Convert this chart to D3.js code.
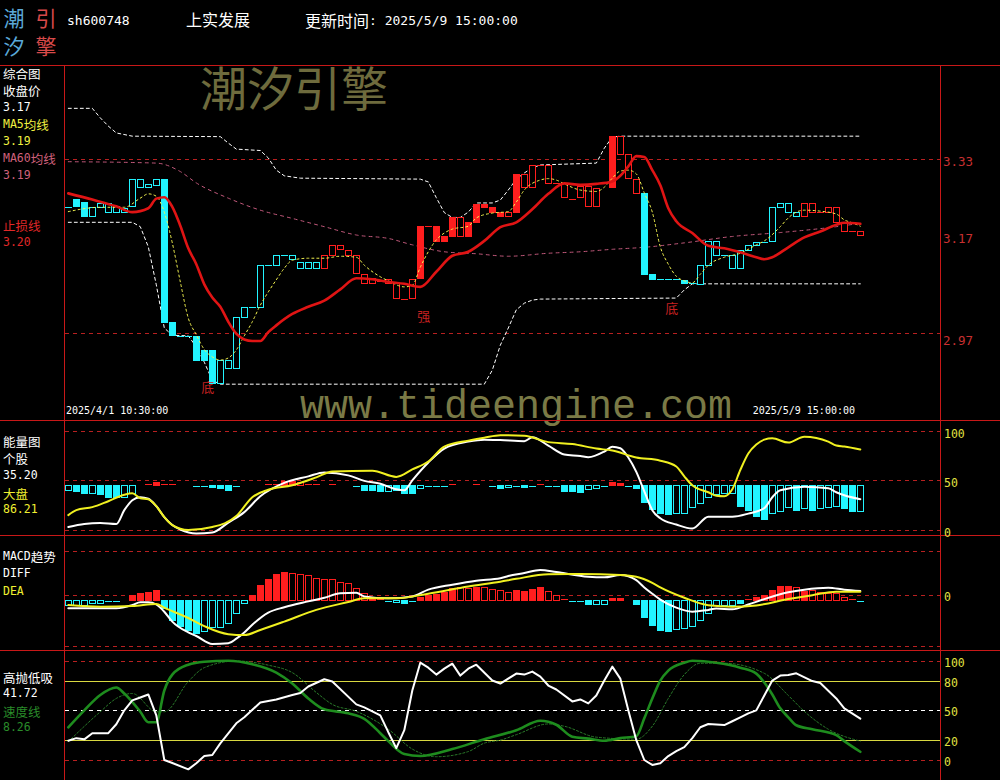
<!DOCTYPE html>
<html><head><meta charset="utf-8">
<script src="https://cdn.jsdelivr.net/npm/d3@7/dist/d3.min.js"></script>
<style>html,body{margin:0;padding:0;background:#000;overflow:hidden}svg{display:block}</style>
</head><body>
<svg id="chart" width="1000" height="780"></svg>
<script>
// ================= DATA =================
const stockCode = 'sh600748';
const stockName = '上实发展';
const updateText = '更新时间: 2025/5/9 15:00:00';
const firstBarTime = '2025/4/1 10:30:00';
const lastBarTime = '2025/5/9 15:00:00';

// candle bodies (upper / lower edge of body), 100 hourly bars
const candleHi = [3.234,3.251,3.245,3.234,3.242,3.242,3.236,3.232,3.293,3.293,
3.282,3.293,3.293,3.005,2.978,2.978,2.977,2.951,2.951,2.932,
2.932,3.015,3.033,3.034,3.116,3.116,3.137,3.137,3.137,3.123,
3.123,3.123,3.137,3.157,3.157,3.147,3.137,3.098,3.090,3.085,
3.088,3.080,3.050,3.088,3.195,3.195,3.195,3.175,3.213,3.213,
3.204,3.241,3.241,3.234,3.224,3.224,3.304,3.304,3.323,3.322,
3.323,3.284,3.284,3.252,3.278,3.278,3.274,3.284,3.385,3.385,
3.346,3.293,3.264,3.098,3.088,3.088,3.088,3.087,3.080,3.116,
3.165,3.165,3.137,3.137,3.147,3.157,3.163,3.163,3.234,3.242,
3.242,3.224,3.242,3.242,3.225,3.234,3.234,3.204,3.186,3.185];
const candleLo = [3.234,3.237,3.215,3.215,3.234,3.225,3.225,3.225,3.237,3.277,
3.277,3.281,3.005,2.980,2.978,2.978,2.933,2.933,2.889,2.889,
2.917,2.917,3.015,3.034,3.034,3.116,3.116,3.137,3.128,3.110,
3.110,3.110,3.110,3.137,3.148,3.137,3.100,3.080,3.080,3.085,
3.080,3.052,3.050,3.052,3.090,3.195,3.165,3.165,3.175,3.175,
3.175,3.204,3.234,3.224,3.215,3.215,3.225,3.276,3.276,3.322,
3.284,3.284,3.255,3.252,3.255,3.237,3.237,3.284,3.276,3.346,
3.295,3.264,3.098,3.088,3.088,3.088,3.088,3.080,3.080,3.079,
3.116,3.137,3.137,3.110,3.110,3.147,3.157,3.163,3.165,3.235,
3.225,3.215,3.215,3.225,3.225,3.225,3.204,3.186,3.186,3.176];
// c = cyan state, r = red state ; f = filled, h = hollow
const candleState = ('cccccccccc'+'cccccccccc'+'cccccccccc'+'ccrrrrrrrr'+'rrrrrrrrrr'+
                     'rrrrrrrrrr'+'rrrrrrrrrr'+'rrcccccccc'+'cccccccccc'+'ccrrrrrrrr').split('');
const candleFill  = ('hffhhhhhhh'+'hhffhhfffh'+'hhhhhhhhhh'+'hhhhhhhhhh'+'hhhhfhfffh'+
                     'fffffhfhhh'+'hhhhhhhhfh'+'hhffhhhfhh'+'hhhhhhhhhh'+'hhhhhhhhhh').split('');

// main panel lines [barIndex, price]
const stopLine = [[0,3.263],[3,3.250],[6,3.236],[8,3.224],[10,3.232],[11,3.252],[12,3.255],[13,3.235],[14,3.196],[15,3.150],[16,3.118],[17,3.078],[18,3.052],[19,3.034],[20,3.005],[21,2.982],[22,2.971],[23,2.968],[24,2.968],[25,2.985],[26,2.998],[28,3.020],[30,3.034],[32,3.046],[34,3.068],[36,3.090],[38,3.088],[40,3.083],[42,3.079],[44,3.073],[46,3.103],[48,3.135],[50,3.143],[52,3.165],[54,3.193],[56,3.203],[58,3.230],[60,3.262],[62,3.284],[64,3.281],[66,3.283],[68,3.288],[69,3.300],[70,3.320],[71,3.342],[72,3.340],[73,3.312],[74,3.280],[75,3.232],[76,3.205],[78,3.181],[80,3.155],[82,3.150],[84,3.142],[86,3.132],[87,3.128],[88,3.132],[90,3.152],[92,3.172],[94,3.184],[96,3.198],[97,3.202],[99,3.200]];
const ma5 = [[0,3.225],[4,3.234],[7,3.234],[9,3.253],[10,3.262],[11,3.257],[12,3.224],[13,3.161],[14,3.083],[15,3.012],[16,2.980],[17,2.952],[18,2.938],[19,2.932],[20,2.936],[21,2.951],[22,2.978],[23,3.005],[24,3.037],[25,3.063],[26,3.087],[27,3.110],[28,3.126],[30,3.130],[32,3.130],[34,3.134],[36,3.132],[37,3.116],[39,3.093],[40,3.085],[42,3.073],[43,3.076],[44,3.112],[45,3.143],[46,3.167],[47,3.181],[48,3.189],[50,3.195],[51,3.212],[53,3.222],[55,3.225],[56,3.245],[57,3.270],[59,3.291],[60,3.294],[61,3.291],[62,3.283],[64,3.270],[66,3.267],[67,3.276],[68,3.295],[69,3.310],[70,3.312],[71,3.304],[72,3.264],[73,3.224],[74,3.153],[75,3.118],[76,3.094],[77,3.085],[78,3.081],[79,3.098],[80,3.116],[82,3.132],[84,3.140],[86,3.157],[87,3.165],[89,3.194],[90,3.212],[91,3.224],[92,3.228],[94,3.226],[96,3.220],[97,3.208],[98,3.202],[99,3.195]];
const ma60 = [[0,3.330],[11,3.327],[14,3.309],[16,3.285],[20,3.253],[24,3.228],[28,3.211],[32,3.194],[36,3.177],[40,3.170],[43,3.157],[47,3.143],[51,3.139],[55,3.134],[60,3.140],[64,3.143],[68,3.148],[72,3.152],[77,3.161],[83,3.174],[89,3.182],[96,3.194],[99,3.201]];
const upperBand = [[0,3.446],[3,3.446],[4,3.425],[5,3.407],[6,3.392],[8,3.385],[19,3.384],[20,3.370],[21,3.357],[24,3.354],[25,3.338],[26,3.312],[27,3.300],[29,3.295],[44,3.293],[45,3.287],[46,3.254],[47,3.223],[48,3.213],[49,3.213],[50,3.224],[51,3.243],[53,3.243],[54,3.249],[55,3.270],[56,3.293],[57,3.306],[58,3.317],[59,3.323],[66,3.327],[67,3.359],[68,3.383],[69,3.385],[99,3.385]];
const lowerBand = [[0,3.203],[8,3.203],[9,3.194],[10,3.153],[11,3.077],[12,2.993],[13,2.979],[15,2.978],[16,2.957],[17,2.928],[18,2.894],[19,2.887],[52,2.887],[53,2.913],[54,2.960],[55,2.993],[56,3.028],[57,3.041],[58,3.047],[59,3.049],[76,3.051],[77,3.067],[78,3.079],[99,3.079]];
const priceTicks = [3.33, 3.17, 2.97];
const priceLevels = [3.335, 2.984];
const signalIdx = [17, 44, 75];
const signalPrice = [2.882, 3.018, 3.033];
const signalText = ['底', '强', '底'];

// energy panel
const energyStock = [[0,3],[2,6],[4,7],[6,6],[7,20],[8,30],[9,33],[10,31.5],[11,24],[12,13],[13,5],[14,0.5],[16,-3.5],[18,-2.5],[20,7.5],[22,18],[24,34],[27,47.5],[30,54],[32,58],[35,55],[37,49.5],[39,46.5],[41,41],[42,40],[43,50],[45,68],[47,82],[50,89],[52,91],[54,90.6],[57,89.5],[58,93.4],[60,85],[62,76],[64,74.5],[65,73.2],[67,79],[68,83.9],[69,82.3],[70,73],[71,58.5],[72,39],[73,20],[74,11.8],[76,5.5],[78,1.5],[80,13.4],[83,13.4],[85,16.5],[87,22],[88,33],[89,40],[92,43.6],[95,42],[96,38],[97,35],[99,31]];
const energyMarket = [[0,15],[1,20],[3,23],[5,29],[7,35.5],[8,37],[9,32],[10,31],[11,24],[12,13],[13,5],[15,0],[18,3],[21,14],[23,33],[25,40.5],[28,45],[31,53],[33,59],[38,59.7],[41,53.5],[43,61],[45,69],[47,84],[50,90],[52,93],[54,95.5],[57,94.8],[60,88.5],[63,86.6],[66,82],[68,80],[71,73],[74,69.8],[76,64],[77,54],[78,45],[80,38],[81,34.5],[82,34],[83,41],[84,60.4],[85,77],[86,86],[87,91],[88,92.3],[90,88],[92,94],[95,89],[96,85],[97,84],[99,81]];
const energyBars = [-5,-5.7,-8.3,-7.7,-9,-11.7,-11.7,-11.7,-7.7,null,
 0.5,2.7,0.5,0.5,null,null,-0.5,-0.5,-2.3,-3.3,
 -5,-0.5,null,null,null,0.5,0.5,4.3,4.3,3,
 0.5,0.5,null,0.5,null,null,-0.5,-5,-5,-5.7,
 -5.7,-5,-7.7,-7.7,-3.3,-0.5,-0.5,-0.5,0.5,null,
 null,0.5,null,-0.5,-3.3,-2.3,-0.5,-2.3,-0.5,0.5,
 -0.5,-0.5,-5.7,-6,-6.7,-4.3,-3.3,-0.5,3.3,2,
 -0.5,-3.3,-16.7,-24.3,-27.7,-29,-27.7,-27.7,-22.3,-18.3,
 -11.7,-9,-8.3,-7.7,-21,-25,-31.7,-34.3,-28.3,-25.7,
 -21.7,-25,-23.3,-25,-23.3,-22.3,-21,-23.3,-25.7,-25.7];
const energyFill = ('hffhfffhhh'+'hfhhhhhhff'+'fhhhhhhffh'+'hhhhhhhfff'+'hfffhhhhhh'+
                    'hhhhfhhfhh'+'hhfffhhhff'+'hfffffhhhh'+'hhhhffffhh'+'hfhfhhhffh').split('');
const energyTicks = [100, 50, 0];

// MACD panel (units of 0.001)
const diffLine = [[0,-9.2],[6,-9.2],[8,-5.6],[9,-2.5],[10,-2.5],[11,-5],[12,-13],[13,-24],[15,-36],[16,-40],[18,-48.9],[20,-48],[21,-43],[22,-36],[23,-27.5],[25,-14],[27,-8],[30,-1.5],[32,2.5],[34,7.5],[36,8],[37,4],[40,1.9],[43,4],[45,11.5],[48,17],[51,21.5],[54,24.1],[55,26.7],[57,30],[59,33.3],[61,31],[65,25.8],[67,25.2],[69,27.8],[71,22],[72,14],[73,7],[74,0.5],[76,-8.5],[78,-13],[80,-11],[81,-9.5],[83,-10.3],[85,-5],[87,1],[90,8.5],[92,11.5],[95,13.7],[97,11.5],[99,10]];
const deaLine = [[0,-5.6],[4,-7.4],[8,-6.7],[11,-4.4],[12,-8.5],[15,-20],[17,-29],[20,-38],[22,-39],[24,-33.3],[27,-24],[31,-11],[35,-2.2],[37,1.9],[41,1.9],[45,7],[50,15],[54,20.3],[56,23.5],[60,28.6],[64,28.9],[69,27.8],[71,25.8],[73,19],[74,14],[77,2.5],[80,-5.8],[83,-7.4],[86,-6],[90,1],[93,5.4],[96,9.2],[99,9.2]];
const macdBars = [-5.6,-5.6,-5.6,-3.7,-3,-1,-1,null,5.6,8.1,
 9.2,11.1,-9.2,-22.2,-28.9,-33.3,-36.3,-34.1,-30.3,-30.3,
 -25.9,-14.1,-3,5.6,16.7,23,28.9,31.5,30.3,28.9,
 27.8,24.1,23,23,20.4,18.5,13,7.4,3.7,1,
 -1,-2,-3.7,-1,3.7,5.6,6.7,9.2,13,14.1,
 13,14.8,14.8,12,11.1,8.5,11.1,10.4,12.2,14.1,
 9.6,5.9,1,-1,-1,-4.8,-4.8,-4.8,2.2,2.2,
 null,-4.4,-18.5,-27.8,-33.3,-34.1,-32.6,-31.5,-28.9,-22.2,
 -14.1,-5.6,-5.6,-5.6,-3,1,3.7,5.9,11.1,15.9,
 15.9,14.8,10.4,11.1,8.5,7.4,7.4,3,1,-1];
const macdFill = ('hhhhhhhhff'+'fffffffhhh'+'hhhfffffhh'+'hhhhhhhhfh'+'hhfhfffffh'+
                  'hfhhhhffff'+'hhhhhfhhff'+'hfffffhhhh'+'hhhhfhffff'+'fhfhhhhhhh').split('');
const macdLevels = [54, 5.6, -50.8];

// 高抛低吸 panel
const gaoLine = [[0,19.4],[1,22],[2,20.8],[3,27],[5,27],[6,36],[7,50],[8,60],[9,63],[10,66],[11,45],[12,0],[13,-3],[15,-9.4],[16,-3.3],[17,4],[18,5],[19,16.8],[21,37],[22,43],[24,58],[26,61],[28,65.5],[29,67.5],[30,74],[32,81.3],[33,79],[36,56],[37,53],[39,45],[40,28],[41,12],[42,30],[43,70],[44,98],[45,93],[46,86],[47,92],[48,97],[49,85],[50,92],[51,96],[53,80],[54,77],[56,87],[57,86],[58,89],[59,84],[60,75],[61,71],[63,59],[64,61],[65,57],[66,65],[67,80],[68,94],[69,82],[70,50],[71,20],[72,0],[73,-5],[74,-3.3],[75,4],[76,9],[77,13],[78,22],[79,33],[80,36.3],[82,35.2],[83,39],[84,43],[85,47],[86,50],[87,65],[88,80],[89,85],[90,85.6],[91,87.3],[93,79.5],[94,77.5],[96,62],[97,52],[99,41.7]];
const speedLine = [[0,32.9],[2,50],[4,65.5],[6,73],[7,67],[9,48.6],[10,38],[11,38],[12,70],[13,86],[15,96],[17,99],[20,100],[23,96.5],[26,88],[28,77],[30,62],[32,51],[35,47],[37,41.5],[39,27],[40,19],[42,6],[44,4],[48,11],[52,21],[56,30],[59,39.6],[61,35.5],[63,23.5],[65,21.5],[67,19.4],[69,22],[71,24],[72,42],[73,62],[74,80],[75,90],[77,98],[78,100],[81,98],[84,93],[86,87],[87,78],[88,66],[89,52],[90,43],[91,35],[93,31],[96,25],[97,19],[99,8.3]];
const speedSignal = [[0,18.4],[4,48.6],[6,62],[8,67],[11,48.6],[12,48.6],[15,79],[17,93],[21,99.7],[25,95.5],[28,88],[31,68],[33,56],[36,49],[40,31],[43,11],[46,3.3],[50,8.5],[52,17],[54,20],[56,25.5],[60,36.3],[62,34],[66,23],[71,21],[73,34],[75,62],[77,86],[79,97.4],[82,97.4],[87,87.3],[90,65],[92,49],[95,31],[99,19]];
const gaoTicks = [100, 80, 50, 20, 0];

// legend texts
const legendMain = [['综合图','#ffffff'],['收盘价','#ffffff'],['3.17','#ffffff'],['MA5均线','#f0f040'],['3.19','#f0f040'],['MA60均线','#d0607c'],['3.19','#d0607c'],['止损线','#e02828'],['3.20','#e02828']];
const legendEnergy = [['能量图','#ffffff'],['个股','#ffffff'],['35.20','#ffffff'],['大盘','#f0f030'],['86.21','#f0f030']];
const legendMacd = [['MACD趋势','#ffffff'],['DIFF','#ffffff'],['DEA','#f0f030']];
const legendGao = [['高抛低吸','#ffffff'],['41.72','#ffffff'],['速度线','#2a8c2a'],['8.26','#2a8c2a']];

// ================= STYLE / LAYOUT =================
const CYAN = '#22f4ff', RED = '#ff1e1e', FRAME = '#c81818', GRID = '#b82020';
const MONO = '"DejaVu Sans Mono", monospace', CJK = '"Noto Sans CJK SC", sans-serif';
const svg = d3.select('#chart');
svg.append('rect').attr('width',1000).attr('height',780).attr('fill','#000');

const x = d3.scaleLinear().domain([0, 99]).range([68.3, 860.3]);
const yPrice = d3.scaleLog().domain([3.33, 2.97]).range([161.7, 340]);
const yEnergy = d3.scaleLinear().domain([0, 100]).range([530, 430.7]);
const yMacd = d3.scaleLinear().domain([0, 10]).range([600, 591]);
const yGao = d3.scaleLinear().domain([0, 100]).range([760, 660.7]);
const PL = 65, PR = 940;

function mixedText(g, px, py, str, color, aSize, cSize, anchor) {
  const t = g.append('text').attr('x', px).attr('y', py).attr('fill', color)
    .attr('dominant-baseline', 'central').attr('text-anchor', anchor || 'start');
  (str.match(/[\x00-\x7f]+|[^\x00-\x7f]+/g) || []).forEach(r => {
    const a = /^[\x00-\x7f]/.test(r);
    t.append('tspan').text(r).attr('font-family', a ? MONO : CJK).attr('font-size', a ? aSize : cSize)
      .attr('dominant-baseline', 'central');
  });
  return t;
}
function hline(g, yy, color, dash, w) {
  g.append('line').attr('x1', PL).attr('x2', PR).attr('y1', yy).attr('y2', yy)
    .attr('stroke', color).attr('stroke-width', w || 1).attr('stroke-dasharray', dash || null)
    .attr('shape-rendering', 'crispEdges');
}
function drawLine(g, pts, ys, color, width, dash, curve) {
  const ln = d3.line().x(d => x(d[0])).y(d => ys(d[1])).curve(curve || d3.curveLinear);
  g.append('path').attr('d', ln(pts)).attr('fill', 'none').attr('stroke', color)
    .attr('stroke-width', width).attr('stroke-dasharray', dash || null)
    .attr('stroke-linejoin', 'round').attr('stroke-linecap', 'round');
}
function box(g, cx, yTop, yBot, col, filled) {
  const t = Math.round(yTop) + 0.5, b = Math.round(yBot) + 0.5;
  g.append('rect').attr('x', cx - 3 + 0.5).attr('y', t).attr('width', 6).attr('height', Math.max(b - t, 1))
    .attr('fill', filled ? col : '#000').attr('stroke', col).attr('stroke-width', 1.2)
    .attr('shape-rendering', 'crispEdges');
}
function dash1(g, cx, yy, col) {
  const v = Math.round(yy) + 0.5;
  g.append('line').attr('x1', cx - 3).attr('x2', cx + 4).attr('y1', v).attr('y2', v)
    .attr('stroke', col).attr('stroke-width', 1).attr('shape-rendering', 'crispEdges');
}
function drawBars(g, vals, fills, ys, base) {
  vals.forEach((v, i) => {
    if (v === null) return;
    const col = v > 0 ? RED : CYAN;
    const cx = Math.round(x(i));
    const y0 = ys(base), y1 = ys(base + v);
    if (Math.abs(y1 - y0) < 1.5) dash1(g, cx, v > 0 ? y0 - 1 : y0 + 1, col);
    else box(g, cx, Math.min(y0, y1), Math.max(y0, y1), col, fills[i] === 'f');
  });
}

// ---------- watermarks ----------
svg.append('text').attr('x', 200).attr('y', 85).attr('dominant-baseline', 'central')
  .attr('font-family', CJK).attr('font-size', 47).attr('fill', '#6e6b3d').text('潮汐引擎');
svg.append('text').attr('x', 300).attr('y', 418)
  .attr('font-family', '"Liberation Mono", monospace').attr('font-size', 40).attr('fill', '#7a7a46')
  .text('www.tideengine.com');

// ---------- header ----------
const logo = [['潮', 14, 17, '#5aa8d8'], ['引', 46, 17, '#d84a4a'], ['汐', 14, 45, '#5aa8d8'], ['擎', 46, 45, '#d84a4a']];
logo.forEach(l => svg.append('text').attr('x', l[1]).attr('y', l[2]).attr('text-anchor', 'middle')
  .attr('dominant-baseline', 'central').attr('font-family', CJK).attr('font-size', 21).attr('fill', l[3]).text(l[0]));
mixedText(svg, 67, 20, stockCode, '#fff', 13, 16);
mixedText(svg, 186, 19, stockName, '#fff', 13, 16);
mixedText(svg, 305, 20, updateText, '#fff', 13, 16);

// ---------- frames ----------
const frame = svg.append('g').attr('stroke', FRAME).attr('shape-rendering', 'crispEdges');
[65.5, 420.5, 535.5, 650.5].forEach(yy => frame.append('line').attr('x1', 0).attr('x2', 1000).attr('y1', yy).attr('y2', yy));
[64.5, 940.5].forEach(xx => frame.append('line').attr('x1', xx).attr('x2', xx).attr('y1', 65.5).attr('y2', 780));

// ---------- main panel ----------
const gm = svg.append('g');
priceLevels.forEach(v => hline(gm, Math.round(yPrice(v)) + 0.5, GRID, '4,4'));
drawLine(gm, upperBand, yPrice, '#ffffff', 1, '3,3');
drawLine(gm, lowerBand, yPrice, '#ffffff', 1, '3,3');
drawLine(gm, ma60, yPrice, '#c0587a', 1, '3,4', d3.curveMonotoneX);
candleHi.forEach((hi, i) => {
  const col = candleState[i] === 'c' ? CYAN : RED;
  const cx = Math.round(x(i));
  const y1 = yPrice(hi), y2 = yPrice(candleLo[i]);
  if (y2 - y1 < 1.2) dash1(gm, cx, y1, col);
  else box(gm, cx, y1, y2, col, candleFill[i] === 'f');
});
drawLine(gm, ma5, yPrice, '#f4f450', 1, '2,3', d3.curveMonotoneX);
drawLine(gm, stopLine, yPrice, '#e01414', 2.6, null, d3.curveMonotoneX);
signalText.forEach((s, k) => gm.append('text').attr('x', x(signalIdx[k]) - 3).attr('y', yPrice(signalPrice[k]))
  .attr('dominant-baseline', 'central').attr('font-family', CJK).attr('font-size', 13).attr('fill', '#c42020').text(s));
priceTicks.forEach(v => svg.append('text').attr('x', 943).attr('y', yPrice(v)).attr('dominant-baseline', 'central')
  .attr('font-family', MONO).attr('font-size', 12.5).attr('fill', '#c83030').text(v.toFixed(2)));
svg.append('text').attr('x', 66).attr('y', 410).attr('dominant-baseline', 'central').attr('font-family', MONO)
  .attr('font-size', 10).attr('fill', '#fff').text(firstBarTime);
svg.append('text').attr('x', 855).attr('y', 410).attr('text-anchor', 'end').attr('dominant-baseline', 'central')
  .attr('font-family', MONO).attr('font-size', 10).attr('fill', '#fff').text(lastBarTime);

// ---------- energy panel ----------
const ge = svg.append('g');
energyTicks.forEach(v => hline(ge, Math.round(yEnergy(v)) + 0.5, GRID, '4,4'));
drawBars(ge, energyBars, energyFill, yEnergy, 45.3);
drawLine(ge, energyStock, yEnergy, '#ffffff', 2, null, d3.curveMonotoneX);
drawLine(ge, energyMarket, yEnergy, '#f0f020', 2, null, d3.curveMonotoneX);
energyTicks.forEach(v => svg.append('text').attr('x', 944).attr('y', yEnergy(v) + 3).attr('dominant-baseline', 'central')
  .attr('font-family', MONO).attr('font-size', 11.5).attr('fill', '#e0e040').text(v));

// ---------- MACD panel ----------
const gd = svg.append('g');
macdLevels.forEach(v => hline(gd, Math.round(yMacd(v)) + 0.5, GRID, '4,4'));
drawBars(gd, macdBars, macdFill, yMacd, 0);
drawLine(gd, diffLine, yMacd, '#ffffff', 2, null, d3.curveMonotoneX);
drawLine(gd, deaLine, yMacd, '#f0f020', 2, null, d3.curveMonotoneX);
svg.append('text').attr('x', 944).attr('y', yMacd(macdLevels[1]) + 2).attr('dominant-baseline', 'central')
  .attr('font-family', MONO).attr('font-size', 11.5).attr('fill', '#e0e040').text('0');

// ---------- 高抛低吸 panel ----------
const gg = svg.append('g');
hline(gg, Math.round(yGao(100)) + 0.5, GRID, '4,4');
hline(gg, Math.round(yGao(0)) + 0.5, GRID, '4,4');
hline(gg, Math.round(yGao(80)) + 0.5, '#d8d840', null);
hline(gg, Math.round(yGao(20)) + 0.5, '#d8d840', null);
hline(gg, Math.round(yGao(50)) + 0.5, '#ffffff', '4,4');
drawLine(gg, speedSignal, yGao, '#2a7a2a', 1, '2,2', d3.curveMonotoneX);
drawLine(gg, speedLine, yGao, '#1e8c1e', 2.6, null, d3.curveMonotoneX);
drawLine(gg, gaoLine, yGao, '#ffffff', 2, null, d3.curveLinear);
gaoTicks.forEach(v => svg.append('text').attr('x', 944).attr('y', yGao(v) + 2).attr('dominant-baseline', 'central')
  .attr('font-family', MONO).attr('font-size', 11.5).attr('fill', '#e0e040').text(v));

// ---------- left legends ----------
function legend(rows, ys) {
  rows.forEach((r, k) => mixedText(svg, 3, ys[k], r[0], r[1], 11.5, 12.5));
}
legend(legendMain, [73, 90, 107, 124, 141, 158, 175, 225, 242]);
legend(legendEnergy, [441, 458, 475, 493, 509]);
legend(legendMacd, [556, 573, 591]);
legend(legendGao, [677, 693, 711, 727]);
</script>
</body></html>
